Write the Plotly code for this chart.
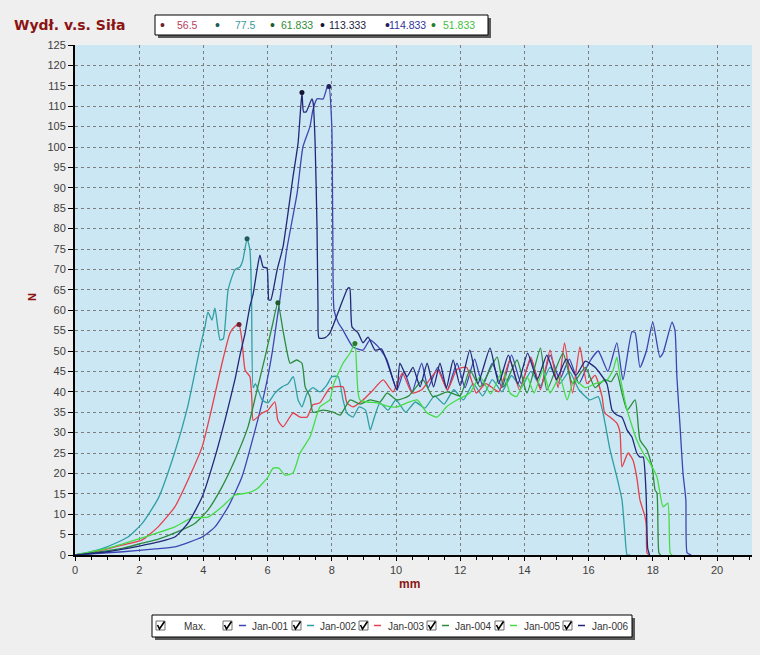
import plotly.graph_objects as go

# ---------------- data ----------------
title_text = "Wydł. v.s. Siła"
x_title = "mm"
y_title = "N"
x_ticks = [0, 2, 4, 6, 8, 10, 12, 14, 16, 18, 20]
y_ticks = list(range(0, 126, 5))
series_names = ["Jan-001", "Jan-002", "Jan-003", "Jan-004", "Jan-005", "Jan-006"]

jan001 = [(0, 0), (1.5, 0.8), (2.5, 1.5), (3.11, 2), (3.96, 4.4), (4.36, 6.9), (4.77, 11.8), (5.2, 19.1),
          (5.61, 30.6), (5.92, 40.4), (6.14, 49.5), (6.29, 57.6), (6.39, 63), (6.6, 75), (6.92, 88.7),
          (7.1, 100), (7.32, 105), (7.41, 109), (7.54, 111.8), (7.73, 111.8), (7.85, 114.5), (7.91, 114.833),
          (8.0, 105), (8.03, 80.4), (8.07, 60), (8.2, 57), (8.35, 55.1), (8.66, 51), (8.97, 50.2), (9.19, 52.7),
          (9.45, 51), (9.72, 47.8), (9.88, 43.7), (10.03, 40.4), (10.25, 45), (10.5, 40), (10.8, 47), (11.0, 41),
          (11.3, 46), (11.6, 40.5), (11.9, 47), (12.15, 41), (12.45, 48), (12.7, 41.5), (13.0, 47), (13.3, 41),
          (13.6, 49), (13.9, 42), (14.2, 48), (14.5, 41), (14.8, 49), (15.1, 43), (15.4, 48), (15.7, 42),
          (16.0, 47), (16.3, 50), (16.6, 45), (16.88, 52), (17.07, 42.9), (17.35, 54.7), (17.45, 54.5),
          (17.6, 46), (17.8, 50), (18.0, 57.1), (18.22, 48.5), (18.32, 49.5), (18.6, 57.1), (18.69, 55.1),
          (18.75, 43.7), (18.85, 31.4), (18.94, 20.1), (19.03, 13.5), (19.07, 0.5), (19.2, 0)]

jan002 = [(0, 0), (0.5, 0.8), (1.0, 2.0), (1.65, 4.4), (2.1, 7.8), (2.6, 14), (3.1, 25), (3.5, 36), (3.9, 51),
          (4.05, 56), (4.14, 59.5), (4.27, 57.6), (4.36, 60.5), (4.52, 52.7), (4.62, 53), (4.77, 65), (4.98, 69.9),
          (5.14, 70.6), (5.23, 72.3), (5.36, 77.5), (5.45, 74.8), (5.5, 62.5), (5.55, 41), (5.62, 42), (5.83, 38),
          (6.01, 37.3), (6.23, 39.7), (6.45, 41.2), (6.64, 42), (6.8, 43.7), (6.95, 38), (7.07, 36.3), (7.23, 39.7),
          (7.41, 41), (7.63, 40), (7.85, 41.7), (8.0, 43.7), (8.2, 43.7), (8.35, 38), (8.47, 34.8), (8.66, 33.8),
          (8.85, 36.3), (9.05, 35.5), (9.2, 30.6), (9.3, 33.1), (9.5, 37.3), (9.75, 35.5), (10.0, 38), (10.3, 35),
          (10.6, 37.5), (10.9, 36), (11.2, 39), (11.5, 37), (11.8, 40.5), (12.1, 38), (12.4, 42), (12.7, 39),
          (13.0, 43), (13.3, 40), (13.6, 44), (13.9, 41), (14.2, 45), (14.5, 41.5), (14.8, 46), (15.1, 42),
          (15.4, 45), (15.7, 40.5), (16.04, 38), (16.3, 38.8), (16.45, 34.8), (16.67, 25.7), (16.88, 19.1),
          (17.04, 13.5), (17.13, 5.4), (17.2, 0), (17.3, 0)]

jan003 = [(0, 0), (0.5, 0.6), (1.25, 2), (2.09, 3.7), (2.59, 6.9), (3.11, 11.8), (3.52, 18.4), (3.96, 26.5),
          (4.27, 36.3), (4.58, 47), (4.83, 54.4), (4.98, 56), (5.11, 56.5), (5.2, 52.7), (5.3, 45.3), (5.45, 43.7),
          (5.51, 38), (5.55, 33), (5.83, 34.8), (6.01, 35.5), (6.23, 37.5), (6.32, 33), (6.48, 31.4), (6.79, 34.8),
          (7.01, 33.8), (7.23, 33.8), (7.41, 36.8), (7.63, 37.3), (7.94, 40.9), (8.35, 41.2), (8.47, 37.3),
          (8.66, 36.3), (8.97, 38), (9.28, 40.4), (9.6, 42.9), (9.91, 40), (10.2, 44.6), (10.5, 39.7), (10.8, 40.5),
          (11.3, 45.3), (11.6, 40.4), (11.9, 45.5), (12.2, 46), (12.5, 39.7), (12.8, 42), (13.2, 40), (13.55, 47.8),
          (13.85, 40.4), (14.2, 48.5), (14.5, 40.5), (14.8, 50.2), (15.05, 41), (15.25, 52), (15.5, 39.7),
          (15.73, 51), (15.95, 42), (16.2, 44), (16.42, 38.8), (16.5, 34.8), (16.67, 33.8), (16.88, 32.3),
          (16.98, 29.9), (17.04, 21.6), (17.23, 25), (17.38, 23.3), (17.5, 19.1), (17.6, 13.5), (17.76, 9.3),
          (17.8, 6.9), (17.82, 0.5), (17.9, 0)]

jan004 = [(0, 0), (0.8, 0.8), (1.5, 1.7), (2.09, 2.9), (2.6, 3.9), (3.11, 5.4), (3.74, 7.8), (4.14, 11),
          (4.58, 16.7), (4.98, 23.3), (5.39, 31.4), (5.67, 40.4), (5.92, 48.5), (6.14, 56), (6.32, 61.833),
          (6.48, 55), (6.6, 50), (6.7, 47), (6.9, 47.8), (7.07, 47), (7.17, 41.2), (7.32, 38.8), (7.41, 35),
          (7.73, 35.5), (8.04, 35), (8.26, 34.3), (8.57, 38), (8.88, 37), (9.19, 38), (9.5, 37.5), (9.72, 39.7),
          (10.03, 38), (10.4, 39), (10.84, 42.9), (11.15, 38.8), (11.6, 40), (12.0, 39), (12.3, 45.3),
          (12.62, 41.2), (13.15, 48.5), (13.35, 41.2), (13.77, 47.8), (14.08, 39.7), (14.5, 50.7), (14.7, 40.4),
          (15.2, 49.5), (15.5, 42), (15.9, 46), (16.2, 41), (16.5, 43), (16.7, 42.5), (16.88, 44.6), (17.04, 39.7),
          (17.2, 35.5), (17.45, 38), (17.6, 28.2), (17.82, 25.7), (17.98, 21.6), (18.07, 15.9), (18.13, 15.2),
          (18.19, 0.5), (18.25, 0)]

jan005 = [(0, 0), (1.03, 1.7), (2.09, 4.2), (3.11, 6.9), (3.64, 9.1), (4.14, 9.3), (4.58, 11.8), (4.98, 14.7),
          (5.39, 15.2), (5.7, 16.4), (6.01, 19.1), (6.17, 21.3), (6.35, 21.3), (6.54, 19.6), (6.79, 20.1),
          (7.01, 25), (7.32, 28.9), (7.63, 36.3), (7.94, 38), (8.04, 41.5), (8.35, 47), (8.57, 49.5),
          (8.72, 51.833), (8.78, 44.6), (8.82, 39.7), (8.88, 38), (9.1, 37.5), (9.41, 37.3), (9.72, 36.5),
          (10.03, 36.3), (10.34, 37.3), (10.66, 38), (10.97, 34.8), (11.28, 33.8), (11.6, 36.5), (11.9, 38),
          (12.3, 39.7), (12.62, 43.7), (12.95, 39.5), (13.33, 45.3), (13.55, 39.7), (13.75, 38.8), (14.08, 43.7),
          (14.3, 39.7), (14.58, 45.3), (14.8, 39.7), (15.1, 43.7), (15.33, 38), (15.55, 42.9), (15.9, 41),
          (16.2, 42), (16.57, 42.9), (16.76, 45.3), (16.88, 48.5), (16.98, 43.7), (17.2, 35.5), (17.5, 28.2),
          (17.7, 25), (17.91, 22.5), (18.13, 19.1), (18.32, 11.8), (18.47, 12.7), (18.54, 0.5), (18.6, 0)]

jan006 = [(0, 0), (1.0, 0.8), (2.0, 2.2), (2.6, 3.2), (3.11, 4.4), (3.52, 7.8), (3.96, 14.2), (4.36, 24),
          (4.67, 33), (4.98, 42.9), (5.14, 49), (5.3, 54.4), (5.45, 61), (5.55, 64), (5.67, 69.9), (5.76, 73.5),
          (5.86, 70.6), (5.98, 70.3), (6.04, 62.5), (6.1, 62.5), (6.3, 70), (6.48, 75.5), (6.79, 92.6),
          (6.95, 101), (7.07, 113.333), (7.12, 108.6), (7.2, 108.6), (7.38, 111.8), (7.42, 110.8), (7.48, 101),
          (7.54, 80), (7.57, 60.8), (7.6, 53.2), (7.78, 53.2), (7.94, 54.4), (8.26, 60.8), (8.5, 65.4),
          (8.56, 65.4), (8.63, 55.9), (8.82, 54.4), (8.97, 52), (9.13, 53.4), (9.35, 50.2), (9.55, 50.5),
          (9.81, 45.3), (10.03, 40.4), (10.12, 47), (10.34, 43.7), (10.53, 46), (10.75, 41.2), (10.97, 47),
          (11.17, 41.2), (11.37, 47), (11.57, 41), (11.78, 47.8), (12.0, 41.5), (12.3, 50.2), (12.55, 42),
          (12.93, 50.7), (13.2, 42), (13.5, 49), (13.8, 42), (14.1, 49.5), (14.4, 43), (14.7, 49), (15.0, 43),
          (15.3, 48), (15.6, 44), (15.9, 47.5), (16.2, 46), (16.57, 42), (16.73, 35.5), (16.88, 34.3),
          (17.04, 33.8), (17.2, 30.6), (17.35, 28.9), (17.5, 25), (17.6, 24), (17.7, 24), (17.79, 15.2),
          (17.82, 5.4), (17.84, 1.7), (17.9, 0)]

series_data = {"Jan-001": jan001, "Jan-002": jan002, "Jan-003": jan003,
               "Jan-004": jan004, "Jan-005": jan005, "Jan-006": jan006}

# order in the "max" box at the top
max_box_order = ["Jan-003", "Jan-002", "Jan-004", "Jan-006", "Jan-001", "Jan-005"]
max_values = [56.5, 77.5, 61.833, 113.333, 114.833, 51.833]

# ---------------- styles ----------------
colors = {"Jan-001": "#3d45b2", "Jan-002": "#2f9fa3", "Jan-003": "#e5404c",
          "Jan-004": "#2c8c3c", "Jan-005": "#46dc46", "Jan-006": "#222778"}
text_colors = {"Jan-001": "#33339a", "Jan-002": "#3a9a9a", "Jan-003": "#b8405a",
               "Jan-004": "#2f8a3a", "Jan-005": "#3fc03f", "Jan-006": "#1e1e40"}
dot_colors = {"Jan-001": "#202060", "Jan-002": "#205a5a", "Jan-003": "#702030",
              "Jan-004": "#1f5a2a", "Jan-005": "#2a7a2a", "Jan-006": "#151530"}
dark_red = "#8b1414"
FONT = "Liberation Sans, Arial, sans-serif"

# plot-area pixel frame
L, R, T, B = 75, 752, 45, 555


def xp(px):
    return (px - L) / (R - L)


def yp(py):
    return (B - py) / (B - T)


fig = go.Figure()
for name in series_names:
    pts = series_data[name]
    xs = [p[0] for p in pts]
    ys = [p[1] for p in pts]
    fig.add_trace(go.Scatter(x=xs, y=ys, mode="lines", name=name,
                             line=dict(color=colors[name], width=1.3, shape="spline", smoothing=0.5),
                             showlegend=False, hoverinfo="x+y+name"))

# max markers
for name, mv in zip(max_box_order, max_values):
    pts = series_data[name]
    i = max(range(len(pts)), key=lambda k: pts[k][1])
    fig.add_trace(go.Scatter(x=[pts[i][0]], y=[mv], mode="markers", name="Max.",
                             marker=dict(color=dot_colors[name], size=5), showlegend=False))

shapes = []
annotations = []

# title
annotations.append(dict(x=xp(12), y=yp(25), xref="paper", yref="paper", xanchor="left", yanchor="middle",
                        text="<b>" + title_text + "</b>", showarrow=False,
                        font=dict(family="DejaVu Sans, Verdana, sans-serif", size=14, color=dark_red)))
# axis titles
annotations.append(dict(x=xp(409), y=yp(584), xref="paper", yref="paper", xanchor="center", yanchor="middle",
                        text="<b>" + x_title + "</b>", showarrow=False,
                        font=dict(family=FONT, size=12, color=dark_red)))
annotations.append(dict(x=xp(32), y=yp(297), xref="paper", yref="paper", xanchor="center", yanchor="middle",
                        text="<b>" + y_title + "</b>", showarrow=False, textangle=-90,
                        font=dict(family=FONT, size=11, color=dark_red)))


def box(x0, y0, x1, y1):
    shapes.append(dict(type="rect", xref="paper", yref="paper", x0=xp(x0 + 3), x1=xp(x1 + 3),
                       y0=yp(y0 + 3), y1=yp(y1 + 3), fillcolor="#5a5a5a", line=dict(width=0), layer="above"))
    shapes.append(dict(type="rect", xref="paper", yref="paper", x0=xp(x0), x1=xp(x1),
                       y0=yp(y0), y1=yp(y1), fillcolor="#ffffff", line=dict(color="#000000", width=1),
                       layer="above"))


# top "max" box
box(155, 15, 488, 35)
value_right = [200, 258, 315, 368, 428, 477]
dot_x = [162, 217, 272, 322, 387, 433]
for name, mv, vr, dx in zip(max_box_order, max_values, value_right, dot_x):
    annotations.append(dict(x=xp(dx), y=yp(25), xref="paper", yref="paper", xanchor="center", yanchor="middle",
                            text="•", showarrow=False, font=dict(family=FONT, size=14, color=dot_colors[name])))
    annotations.append(dict(x=xp(vr), y=yp(25), xref="paper", yref="paper", xanchor="right", yanchor="middle",
                            text=f"{mv:g}", showarrow=False, font=dict(family=FONT, size=10.5,
                                                                        color=text_colors[name])))

# bottom legend box
box(152, 615, 632, 637)
cb_x = [156, 223, 292, 359, 427, 495, 563]
labels = ["Max."] + series_names
label_x = [182, 250, 318, 386, 453, 522, 590]
sym_x = [None, 239, 307, 374, 442, 510, 578]
cy0, cy1 = 621, 630
for k, lab in enumerate(labels):
    cx = cb_x[k]
    shapes.append(dict(type="rect", xref="paper", yref="paper", x0=xp(cx), x1=xp(cx + 9), y0=yp(cy1), y1=yp(cy0),
                       fillcolor="#ffffff", line=dict(color="#707070", width=1), layer="above"))
    path = "M {:.5f},{:.5f} L {:.5f},{:.5f} L {:.5f},{:.5f}".format(
        xp(cx + 1.5), yp(cy0 + 4), xp(cx + 3.5), yp(cy0 + 8), xp(cx + 8.5), yp(cy0 + 0.5))
    shapes.append(dict(type="path", xref="paper", yref="paper", path=path,
                       line=dict(color="#000000", width=1.6), layer="above"))
    if sym_x[k] is not None:
        shapes.append(dict(type="line", xref="paper", yref="paper", x0=xp(sym_x[k]), x1=xp(sym_x[k] + 7),
                           y0=yp(625.5), y1=yp(625.5), line=dict(color=colors[lab], width=1.5), layer="above"))
    annotations.append(dict(x=xp(label_x[k]), y=yp(626), xref="paper", yref="paper", xanchor="left",
                            yanchor="middle", text=lab, showarrow=False,
                            font=dict(family=FONT, size=10, color="#333333")))

axis_common = dict(showgrid=True, gridcolor="#7c7c7c", gridwidth=1, griddash="3px,3px", zeroline=False,
                   showline=True, linecolor="#000000", linewidth=2, ticks="outside", tickcolor="#000000",
                   tickfont=dict(family=FONT, size=11, color="#404040"))

fig.update_layout(
    width=760, height=655,
    margin=dict(l=L, r=760 - R, t=T, b=655 - B, pad=0),
    paper_bgcolor="#efefef", plot_bgcolor="#cbe7f4",
    showlegend=False,
    xaxis=dict(range=[0, (R - L) / 32.1], tickmode="array", tickvals=x_ticks, ticklen=4,
               minor=dict(dtick=0.5, ticks="outside", ticklen=3, tickcolor="#000000", showgrid=False),
               **axis_common),
    yaxis=dict(range=[0, 125], tickmode="array", tickvals=y_ticks, ticklen=5, **axis_common),
    shapes=shapes, annotations=annotations,
)

fig.write_html("out.html", config={"displayModeBar": False},
               post_script="document.body.style.margin='0';")
